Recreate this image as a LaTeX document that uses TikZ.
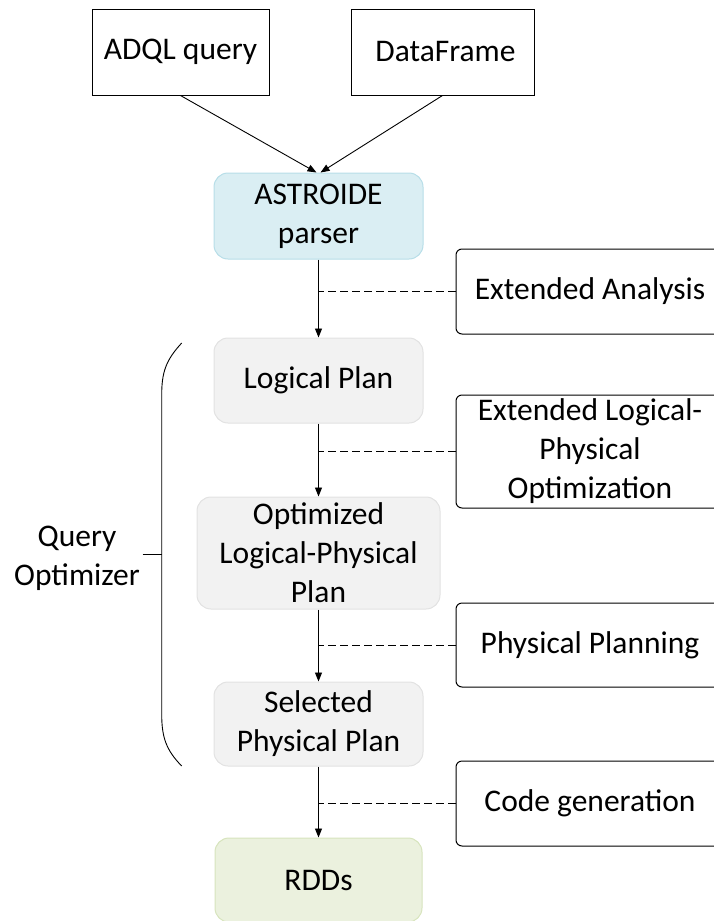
\documentclass[tikz,border=0pt]{standalone}
\usepackage{fontspec}
\setmainfont{Carlito}
\usetikzlibrary{arrows.meta}
\definecolor{bluefill}{HTML}{DAEEF3}
\definecolor{blueline}{HTML}{B7DEE8}
\definecolor{greyfill}{HTML}{F2F2F2}
\definecolor{greyline}{HTML}{E2E2E2}
\definecolor{greenfill}{HTML}{EBF1DE}
\definecolor{greenline}{HTML}{D7E4BD}
\tikzset{
  txt/.style={font=\fontsize{31.5}{39}\selectfont, align=center, inner sep=0pt},
  inbox/.style={txt, draw=black, line width=1pt},
  stagebox/.style={txt, rounded corners=14pt, line width=1pt},
  sidebox/.style={txt, draw=black, line width=1pt, rounded corners=6pt},
  flow/.style={line width=0.9pt, -{Triangle[length=9pt,width=7pt]}},
  hint/.style={line width=0.9pt, dash pattern=on 8pt off 4pt},
}
\begin{document}
\begin{tikzpicture}[x=1pt,y=-1pt]
\useasboundingbox (0,0) rectangle (714,921);
\clip (0,0) rectangle (714,921);
% input boxes
\node[inbox, minimum width=177pt, minimum height=86pt] (adql) at (180.5,52) {ADQL query};
\node[inbox, minimum width=183pt, minimum height=86pt] (df) at (442.5,52) {\hspace{6pt}DataFrame};
% main stages
\node[stagebox, fill=bluefill, draw=blueline, minimum width=209pt, minimum height=86pt] (ast) at (318.5,216) {ASTROIDE\\parser};
\node[stagebox, fill=greyfill, draw=greyline, minimum width=209pt, minimum height=85pt] (lp) at (318.5,380.5) {Logical Plan};
\node[stagebox, fill=greyfill, draw=greyline, minimum width=243pt, minimum height=112pt] (olp) at (318.5,553) {Optimized\\Logical-Physical\\Plan};
\node[stagebox, fill=greyfill, draw=greyline, minimum width=209pt, minimum height=84pt] (spp) at (318.5,724) {Selected\\Physical Plan};
\node[stagebox, fill=greenfill, draw=greenline, minimum width=207pt, minimum height=84pt] (rdd) at (318.5,880) {RDDs};
% side boxes
\node[sidebox, minimum width=268pt, minimum height=85pt] (ea) at (590,291.5) {Extended Analysis};
\node[sidebox, minimum width=268pt, minimum height=113pt] (elpo) at (590,451.5) {Extended Logical-\\Physical\\Optimization};
\node[sidebox, minimum width=268pt, minimum height=84pt] (pp) at (590,645) {Physical Planning};
\node[sidebox, minimum width=268pt, minimum height=85pt] (cg) at (590,803.5) {Code generation};
% arrows
\draw[flow] (adql.south) -- ([xshift=-2pt]ast.north);
\draw[flow] (df.south) -- ([xshift=2pt]ast.north);
\draw[flow] (ast) -- (lp);
\draw[flow] (lp) -- (olp);
\draw[flow] (olp) -- (spp);
\draw[flow] (spp) -- (rdd);
% dashed links
\draw[hint] (ea.west) -- (ea.west -| ast.south);
\draw[hint] (elpo.west) -- (elpo.west -| ast.south);
\draw[hint] (pp.west) -- (pp.west -| ast.south);
\draw[hint] (cg.west) -- (cg.west -| ast.south);
% bracket
\coordinate (bt) at (181.7,343);
\coordinate (bb) at (181.7,766);
\coordinate (bm) at (161.7,554);
\coordinate (tick) at (142.5,554);
\draw[line width=0.9pt] (bt) .. controls (166,360) and (161.7,372) .. (161.7,395)
  -- (161.7,714) .. controls (161.7,737) and (166,750) .. (bb);
\draw[line width=0.9pt] (tick) -- (bm);
\node[txt] (qo) at (77,558) {Query\\Optimizer};
\end{tikzpicture}
\end{document}
